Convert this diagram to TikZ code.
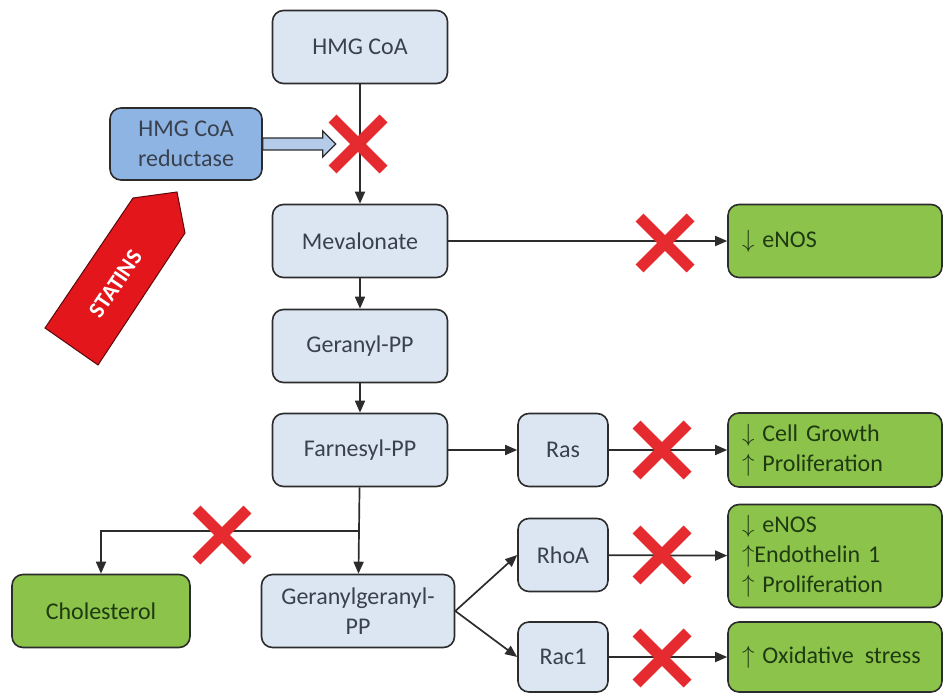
\documentclass[tikz,border=0pt]{standalone}
\usepackage{fontspec}
\setmainfont{Carlito}
\usetikzlibrary{arrows.meta,shapes.misc}

\definecolor{boxblue}{HTML}{DCE6F2}
\definecolor{enzblue}{HTML}{8EB4E3}
\definecolor{shaftblue}{HTML}{B4CCEA}
\definecolor{leafgreen}{HTML}{8CC34A}
\definecolor{leaftext}{HTML}{1F3A12}
\definecolor{crossred}{HTML}{E52B2F}
\definecolor{statred}{HTML}{E3161C}
\definecolor{edgegray}{HTML}{2C2C2C}
\definecolor{txtgray}{HTML}{39414E}

\begin{document}
\begin{tikzpicture}[x=1pt, y=-1pt, font=\fontsize{24}{30}\selectfont,
  stepbox/.style={draw=edgegray, line width=1.6pt, rounded corners=11pt, fill=boxblue,
    text=txtgray, minimum width=175pt, minimum height=73pt, align=center, inner sep=2pt},
  gtpbox/.style={stepbox, minimum width=90pt},
  effect/.style={draw=edgegray, line width=1.6pt, rounded corners=11pt, fill=leafgreen,
    text=leaftext, text width=186pt, inner xsep=14pt, align=left},
  blocked/.style={cross out, draw=crossred, line width=11pt, minimum size=40pt, inner sep=0pt},
  link/.style={draw=edgegray, line width=1.7pt, -{Triangle[length=12pt,width=10pt]}}]
\useasboundingbox (0,0) rectangle (944,695);

% pathway
\node[stepbox] (hmg) at (360,47) {HMG CoA};
\node[stepbox, fill=enzblue, minimum width=152pt, minimum height=72pt] (red) at (186,144) {HMG CoA\\reductase};
\node[stepbox] (mev) at (360,241) {Mevalonate};
\node[stepbox] (gpp) at (360,346) {Geranyl-PP};
\node[stepbox] (fpp) at (360,450) {Farnesyl-PP};
\node[stepbox, minimum width=193pt] (ggpp) at (358,611) {Geranylgeranyl-\\PP};
\node[stepbox, fill=leafgreen, text=leaftext, minimum width=178pt] (chol) at (101,611) {Cholesterol};
\node[gtpbox] (ras) at (563,450) {Ras};
\node[gtpbox] (rhoa) at (563,555) {RhoA};
\node[gtpbox, minimum height=70pt] (rac) at (563,657) {Rac1};

% effects
\node[effect, minimum height=73pt] (enos) at (835,241) {$\downarrow$\,\,eNOS};
\node[effect, minimum height=74pt] (growth) at (835,450) {$\downarrow$\,\,Cell Growth\\$\uparrow$\,\,Proliferation};
\node[effect, minimum height=103pt] (endo) at (835,556) {$\downarrow$\,\,eNOS\\$\uparrow$Endothelin 1\\$\uparrow$\,\,Proliferation};
\node[effect, minimum height=70pt] (oxid) at (835,657) {$\uparrow$\,\,Oxidative\hspace{0.12em} stress};

% statins
\fill[statred, draw=black!60!statred, line width=1pt]
  (45,328) -- (133,198) -- (177,192) -- (185,233) -- (98,365) -- cycle;
\node[rotate=56, text=white, font=\fontsize{23}{25}\selectfont\bfseries] (statins) at (116,284) {STATINS};
\draw[draw=edgegray, fill=shaftblue, line width=1.3pt]
  (red.east) ++(0,-6) -- ++(60,0) -- ++(0,-7) -- ++(13,13) -- ++(-13,13) -- ++(0,-7) -- ++(-60,0) -- cycle;

% connectors
\coordinate (fork) at (360,531);
\draw[link] (hmg) -- (mev);
\draw[link] (mev) -- (gpp);
\draw[link] (gpp) -- (fpp);
\draw[link] (fpp) -- (ggpp);
\draw[link] (fork) -| (chol);
\draw[link] (mev) -- (enos);
\draw[link] (fpp) -- (ras);
\draw[link] (ras) -- (growth);
\draw[link] (ggpp.east) -- (rhoa.west);
\draw[link] (ggpp.east) -- (rac.west);
\draw[link] (rhoa) -- (endo);
\draw[link] (rac) -- (oxid);

% blocks
\node[blocked] (x1) at (358,144) {};
\node[blocked] (x2) at (665,243) {};
\node[blocked] (x3) at (222,535) {};
\node[blocked] (x4) at (662,450) {};
\node[blocked] (x5) at (662,555) {};
\node[blocked] (x6) at (662,658) {};
\end{tikzpicture}
\end{document}
